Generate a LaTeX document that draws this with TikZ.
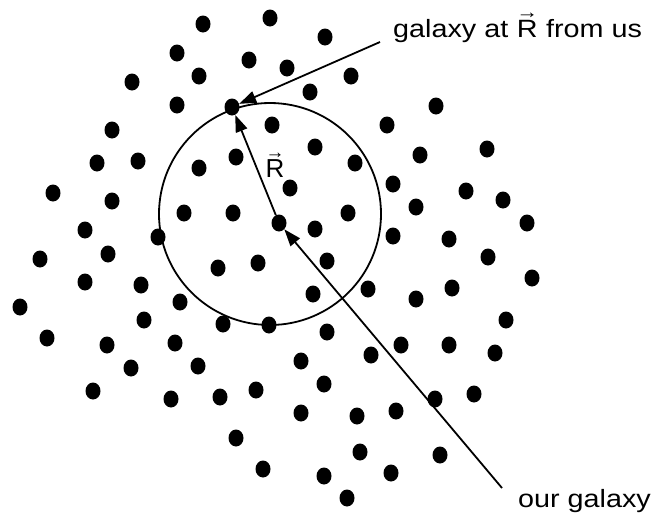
\documentclass[tikz,border=0pt]{standalone}
\usepackage{fontspec}
\setmainfont{Liberation Sans}
\usetikzlibrary{arrows.meta, shapes.geometric}

% R with a small arrow set over it
\newcommand{\vecR}{\leavevmode\vbox{\offinterlineskip\halign{\hfil##\hfil\cr
  {\fontsize{19}{19}\selectfont →}\cr\noalign{\kern1pt}R\cr}}}

\begin{document}
\begin{tikzpicture}[x=1pt, y=-1pt,
    gal/.style={ellipse, fill=black, inner sep=0pt, minimum width=15pt, minimum height=17pt},
    arr/.style={line width=1.8pt, -{Triangle[length=17pt, width=12pt]}},
    lbl/.style={font=\fontsize{25}{30}\selectfont, inner sep=0pt, xscale=1.15, transform shape}]
  \useasboundingbox (0,0) rectangle (653,515);

  % the field of galaxies
  \foreach \x/\y [count=\i] in {203/24, 270/18, 325/37, 177/53, 249/60, 287/68, 199/76,
      132/82, 310/92, 351/76, 177/105, 436/106, 272/125, 387/125, 112/130, 315/147,
      487/149, 420/155, 97/163, 138/161, 199/168, 236/157, 355/163, 290/188, 393/184,
      466/191, 53/193, 112/201, 503/200, 416/207, 184/213, 233/213, 348/213, 527/223,
      315/229, 85/230, 158/237, 393/236, 449/239, 40/259, 108/254, 488/257, 327/261,
      258/263, 218/268, 532/278, 85/282, 141/285, 368/289, 452/288, 313/294, 416/299,
      180/302, 20/307, 144/320, 506/320, 223/324, 269/325, 327/332, 47/338, 175/343,
      107/345, 401/345, 449/345, 495/353, 371/355, 301/361, 198/366, 131/368, 324/384,
      256/390, 93/391, 474/394, 220/397, 171/399, 435/399, 396/411, 301/413, 357/416,
      236/438, 360/452, 440/455, 263/469, 391/473, 324/476, 347/498}
    \node[gal] (g\i) at (\x,\y) {};

  \node[gal] (galR) at (232,107) {};
  \node[gal] (ours) at (279,223) {};

  % sphere of radius R
  \coordinate (mid) at (270,214);
  \draw[line width=1.8pt] (mid) circle[radius=111pt];

  % labels
  \node[lbl, anchor=base west] (farlab) at (393,37) {galaxy at \vecR{} from us};
  \node[lbl, anchor=base west] (ourlab) at (518,507) {our galaxy};
  \node[font=\fontsize{26}{30}\selectfont, inner sep=0pt, anchor=base] (rlab) at (275,177) {\vecR};

  \coordinate (fartail) at (380,42);
  \coordinate (ourtail) at (502,488);
  \draw[arr] (fartail) -- (galR);
  \draw[arr] (ourtail) -- (ours);
  \draw[arr] (ours) -- (galR);
\end{tikzpicture}
\end{document}
